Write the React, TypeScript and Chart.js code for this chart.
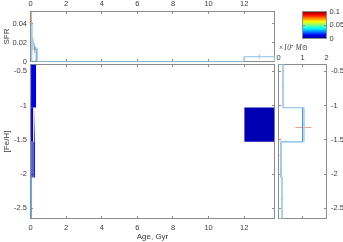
import React, { useEffect, useRef } from "react";
import { Chart, registerables } from "chart.js";

Chart.register(...registerables);

const W = 343;
const H = 242;

// ---------------- axis ranges ----------------
const AGE_MIN = 0;
const AGE_MAX = 13.7;
const FEH_MIN = -2.65;
const FEH_MAX = -0.4;
const SFR_MIN = 0;
const SFR_MAX = 0.053;
const MASS_MIN = 0;
const MASS_MAX = 2;
const CBAR_MIN = 0;
const CBAR_MAX = 0.1;

// ---------------- SFR vs age (top panel) ----------------
const sfrAgeEdges = [0.04, 0.08, 0.12, 0.18, 0.25, 0.33, 12.0, 13.7];
const sfrValues = [0.039, 0.021, 0.019, 0.016, 0.013, 0, 0.0052];
const sfrAltAgeEdges = [0.04, 0.08, 0.12, 0.18, 0.29, 0.38, 12.0, 13.7];
const sfrAltValues = [0.039, 0.021, 0.019, 0.016, 0.014, 0, 0.0052];
const sfrErrAge = [0.06, 0.14, 0.22, 12.85];
const sfrErrLow = [0.021, 0.012, 0.009, 0.0033];
const sfrErrHigh = [0.0525, 0.025, 0.019, 0.0072];
const sfrMeanAge = [0.05];
const sfrMeanLow = [0.037];
const sfrMeanHigh = [0.044];

// ---------------- age-metallicity cells (main panel) ----------------
const cellAgeFrom = [0.03, 0.03, 0.2, 0.03, 0.2, 0.02, 12.0];
const cellAgeTo = [0.32, 0.16, 0.25, 0.2, 0.26, 0.08, 13.7];
const cellFehFrom = [-1.03, -1.53, -1.53, -2.05, -2.05, -2.65, -1.53];
const cellFehTo = [-0.4, -1.03, -1.03, -1.53, -1.53, -2.05, -1.03];
const cellSfr = [0.01, 0.011, 0.012, 0.01, 0.008, 0.028, 0.005];

// ---------------- metallicity distribution (right panel), x 1e7 Msun ----------------
const mdfFehEdges = [-0.4, -1.03, -1.53, -2.05, -2.65];
const mdfMass = [0.2, 1.0, 0.11, 0.16];
const mdfAltMass = [0.2, 1.06, 0.11, 0.16];
const mdfErrFeh = [-0.72, -1.32, -1.73, -2.37];
const mdfErrLow = [0.17, 0.7, 0.04, 0.11];
const mdfErrHigh = [0.25, 1.37, 0.1, 0.17];

// ---------------- styles ----------------
const TEXT = "#3a3a3a";
const AXIS = "#8c8c8c";
const LINE = "#4a9ad6";
const LINE_LIGHT = "#a8d1f0";
const ERR = "#f0a080";
const MEAN = "#8f8f8f";
const SANS = "'Liberation Sans', Arial, Helvetica, sans-serif";
const SERIF = "'Liberation Serif', 'DejaVu Serif', serif";
const cellOpacity = [1, 1, 1, 0.65, 1, 0.85, 1];

const clamp = (v: number) => Math.max(0, Math.min(1, v));
function jet(t: number, alpha = 1) {
  const r = clamp(1.5 - Math.abs(4 * t - 3));
  const g = clamp(1.5 - Math.abs(4 * t - 2));
  const b = clamp(1.5 - Math.abs(4 * t - 1));
  return `rgba(${Math.round(r * 255)},${Math.round(g * 255)},${Math.round(b * 255)},${alpha})`;
}

function stepX(edges: number[], values: number[]) {
  const pts: any[] = [{ x: AGE_MIN, y: 0 }, { x: edges[0], y: 0 }];
  values.forEach((v, i) => {
    pts.push({ x: edges[i], y: v }, { x: edges[i + 1], y: v });
  });
  pts.push({ x: edges[edges.length - 1], y: 0 });
  return pts;
}
function stepY(edges: number[], values: number[]) {
  const pts: any[] = [{ x: 0, y: edges[0] }];
  values.forEach((v, i) => {
    pts.push({ x: v, y: edges[i] }, { x: v, y: edges[i + 1] });
  });
  pts.push({ x: 0, y: edges[edges.length - 1] });
  return pts;
}
function vSegs(xs: number[], lo: number[], hi: number[]) {
  const pts: any[] = [];
  xs.forEach((x, i) => pts.push({ x, y: lo[i] }, { x, y: hi[i] }, { x, y: null }));
  return pts;
}
function hSegs(ys: number[], lo: number[], hi: number[]) {
  const pts: any[] = [];
  ys.forEach((y, i) => pts.push({ x: lo[i], y }, { x: hi[i], y }, { x: hi[i], y: null }));
  return pts;
}

// MATLAB-like box with inward ticks
function drawBox(chart: any) {
  const { ctx, chartArea: a } = chart;
  ctx.save();
  ctx.strokeStyle = AXIS;
  ctx.lineWidth = 1;
  ctx.strokeRect(a.left, a.top, a.right - a.left, a.bottom - a.top);
  const tl = 2.5;
  Object.values(chart.scales).forEach((s: any) => {
    if (s.type === "category" || !s.options.display) return;
    s.ticks.forEach((t: any) => {
      const p = Math.round(s.getPixelForValue(t.value) - 0.5) + 0.5;
      ctx.beginPath();
      if (s.isHorizontal()) {
        ctx.moveTo(p, a.bottom);
        ctx.lineTo(p, a.bottom - tl);
        ctx.moveTo(p, a.top);
        ctx.lineTo(p, a.top + tl);
      } else {
        ctx.moveTo(a.left, p);
        ctx.lineTo(a.left + tl, p);
        ctx.moveTo(a.right, p);
        ctx.lineTo(a.right - tl, p);
      }
      ctx.stroke();
    });
  });
  ctx.restore();
}
const boxPlugin = {
  id: "matlabBox",
  beforeDatasetsDraw(chart: any, _a: any, opts: any) {
    if (!opts || !opts.onTop) drawBox(chart);
  },
  afterDatasetsDraw(chart: any, _a: any, opts: any) {
    if (opts && opts.onTop) drawBox(chart);
  },
};

const tickFont = { family: SANS, size: 7.5 };
const titleFont = { family: SANS, size: 8 };
const fmt = (v: any) => String(Number(Number(v).toFixed(4)));

function baseOptions(padding: any, scales: any, onTop = false) {
  return {
    responsive: false,
    maintainAspectRatio: false,
    animation: false,
    devicePixelRatio: 1,
    events: [],
    layout: { padding },
    elements: { point: { radius: 0 }, line: { tension: 0 } },
    plugins: {
      legend: { display: false },
      tooltip: { enabled: false },
      matlabBox: { onTop },
    },
    scales,
  };
}

function lin(extra: any, ticks: any, fixed: { w?: number; h?: number }) {
  return {
    type: "linear",
    grid: { display: false, drawTicks: false },
    border: { display: false },
    ticks: {
      font: tickFont,
      color: TEXT,
      includeBounds: false,
      maxRotation: 0,
      autoSkip: false,
      callback: fmt,
      ...ticks,
    },
    afterFit: (s: any) => {
      if (fixed.w !== undefined) s.width = fixed.w;
      if (fixed.h !== undefined) s.height = fixed.h;
    },
    ...extra,
  };
}

function mainConfig(): any {
  const datasets = cellAgeFrom.map((a0, i) => ({
    data: [
      { x: a0, y: cellFehTo[i] },
      { x: cellAgeTo[i], y: cellFehTo[i] },
    ],
    fill: { value: cellFehFrom[i] },
    backgroundColor: jet(cellSfr[i] / CBAR_MAX, cellOpacity[i]),
    borderColor: "rgba(0,0,0,0)",
    borderWidth: 0,
    pointRadius: 0,
  }));
  return {
    type: "line",
    data: { datasets },
    plugins: [boxPlugin],
    options: baseOptions(
      { left: 0, top: 64.5, right: 68.5, bottom: 0 },
      {
        x: lin(
          {
            position: "bottom",
            min: AGE_MIN,
            max: AGE_MAX,
            title: { display: true, text: "Age, Gyr", font: titleFont, color: TEXT, padding: { top: 0, bottom: 0.5 } },
          },
          { stepSize: 2, padding: 4.5 },
          { h: 23.5 }
        ),
        y: lin(
          {
            position: "left",
            min: FEH_MIN,
            max: FEH_MAX,
            title: { display: true, text: "[Fe/H]", font: titleFont, color: TEXT, padding: { top: 2, bottom: 0 } },
          },
          { stepSize: 0.5, padding: 3.5 },
          { w: 30.5 }
        ),
      }
    ),
  };
}

function topConfig(): any {
  return {
    type: "line",
    data: {
      datasets: [
        { data: stepX(sfrAltAgeEdges, sfrAltValues), borderColor: LINE_LIGHT, borderWidth: 1, pointRadius: 0, fill: false },
        { data: stepX(sfrAgeEdges, sfrValues), borderColor: LINE, borderWidth: 1, pointRadius: 0, fill: false },
        { data: vSegs(sfrErrAge, sfrErrLow, sfrErrHigh), borderColor: ERR, borderWidth: 1, pointRadius: 0, fill: false, spanGaps: false },
        { data: vSegs(sfrMeanAge, sfrMeanLow, sfrMeanHigh), borderColor: MEAN, borderWidth: 1.2, pointRadius: 0, fill: false, spanGaps: false },
      ],
    },
    plugins: [boxPlugin],
    options: baseOptions(
      { left: 0, top: 0, right: 68.5, bottom: 180.5 },
      {
        x: lin({ position: "top", min: AGE_MIN, max: AGE_MAX }, { stepSize: 2, padding: 2.8 }, { h: 11.5 }),
        y: lin(
          {
            position: "left",
            min: SFR_MIN,
            max: SFR_MAX,
            title: { display: true, text: "SFR", font: titleFont, color: TEXT, padding: { top: 2, bottom: 0 } },
          },
          { stepSize: 0.02, padding: 3.5 },
          { w: 30.5 }
        ),
      }
    ),
  };
}

function rightConfig(): any {
  return {
    type: "line",
    data: {
      datasets: [
        { data: stepY(mdfFehEdges, mdfAltMass), borderColor: LINE_LIGHT, borderWidth: 1, pointRadius: 0, fill: false },
        { data: stepY(mdfFehEdges, mdfMass), borderColor: LINE, borderWidth: 1, pointRadius: 0, fill: false },
        { data: hSegs(mdfErrFeh, mdfErrLow, mdfErrHigh), borderColor: ERR, borderWidth: 1, pointRadius: 0, fill: false, spanGaps: false },
      ],
    },
    plugins: [boxPlugin],
    options: baseOptions(
      { left: 278.5, top: 42.5, right: 0, bottom: 23.5 },
      {
        x: lin(
          {
            position: "top",
            min: MASS_MIN,
            max: MASS_MAX,
            title: {
              display: true,
              text: "×10⁷ M⊙",
              align: "start",
              font: { family: SERIF, size: 7.5, style: "italic" },
              color: TEXT,
              padding: { top: 1.2, bottom: 0 },
            },
          },
          { stepSize: 1, padding: 2.5 },
          { h: 22 }
        ),
        y: lin({ position: "right", min: FEH_MIN, max: FEH_MAX }, { stepSize: 0.5, padding: 4.5 }, { w: 16.5 }),
      }
    ),
  };
}

function cbarConfig(): any {
  return {
    type: "bar",
    data: {
      labels: [""],
      datasets: [
        {
          data: [[CBAR_MIN, CBAR_MAX]],
          backgroundColor: (c: any) => {
            const a = c.chart.chartArea;
            if (!a) return jet(0);
            const g = c.chart.ctx.createLinearGradient(0, a.bottom, 0, a.top);
            for (let i = 0; i <= 32; i++) g.addColorStop(i / 32, jet(i / 32));
            return g;
          },
          borderWidth: 0,
          barPercentage: 1,
          categoryPercentage: 1,
        },
      ],
    },
    plugins: [boxPlugin],
    options: baseOptions(
      { left: 302.5, top: 11.5, right: 0, bottom: 203.5 },
      {
        x: { type: "category", display: false },
        y: lin({ position: "right", min: CBAR_MIN, max: CBAR_MAX }, { stepSize: 0.05, padding: 3 }, { w: 16.5 }),
      },
      true
    ),
  };
}

function ChartCanvas({ make }: { make: () => any }) {
  const ref = useRef<HTMLCanvasElement>(null);
  useEffect(() => {
    const chart = new Chart(ref.current as HTMLCanvasElement, make());
    return () => chart.destroy();
  }, []);
  return (
    <canvas
      ref={ref}
      width={W}
      height={H}
      style={{ position: "absolute", left: 0, top: 0, width: W, height: H }}
    />
  );
}

export default function App() {
  return (
    <div style={{ position: "absolute", left: 0, top: 0, width: W, height: H, background: "#ffffff", overflow: "hidden" }}>
      <ChartCanvas make={mainConfig} />
      <ChartCanvas make={topConfig} />
      <ChartCanvas make={rightConfig} />
      <ChartCanvas make={cbarConfig} />
    </div>
  );
}
